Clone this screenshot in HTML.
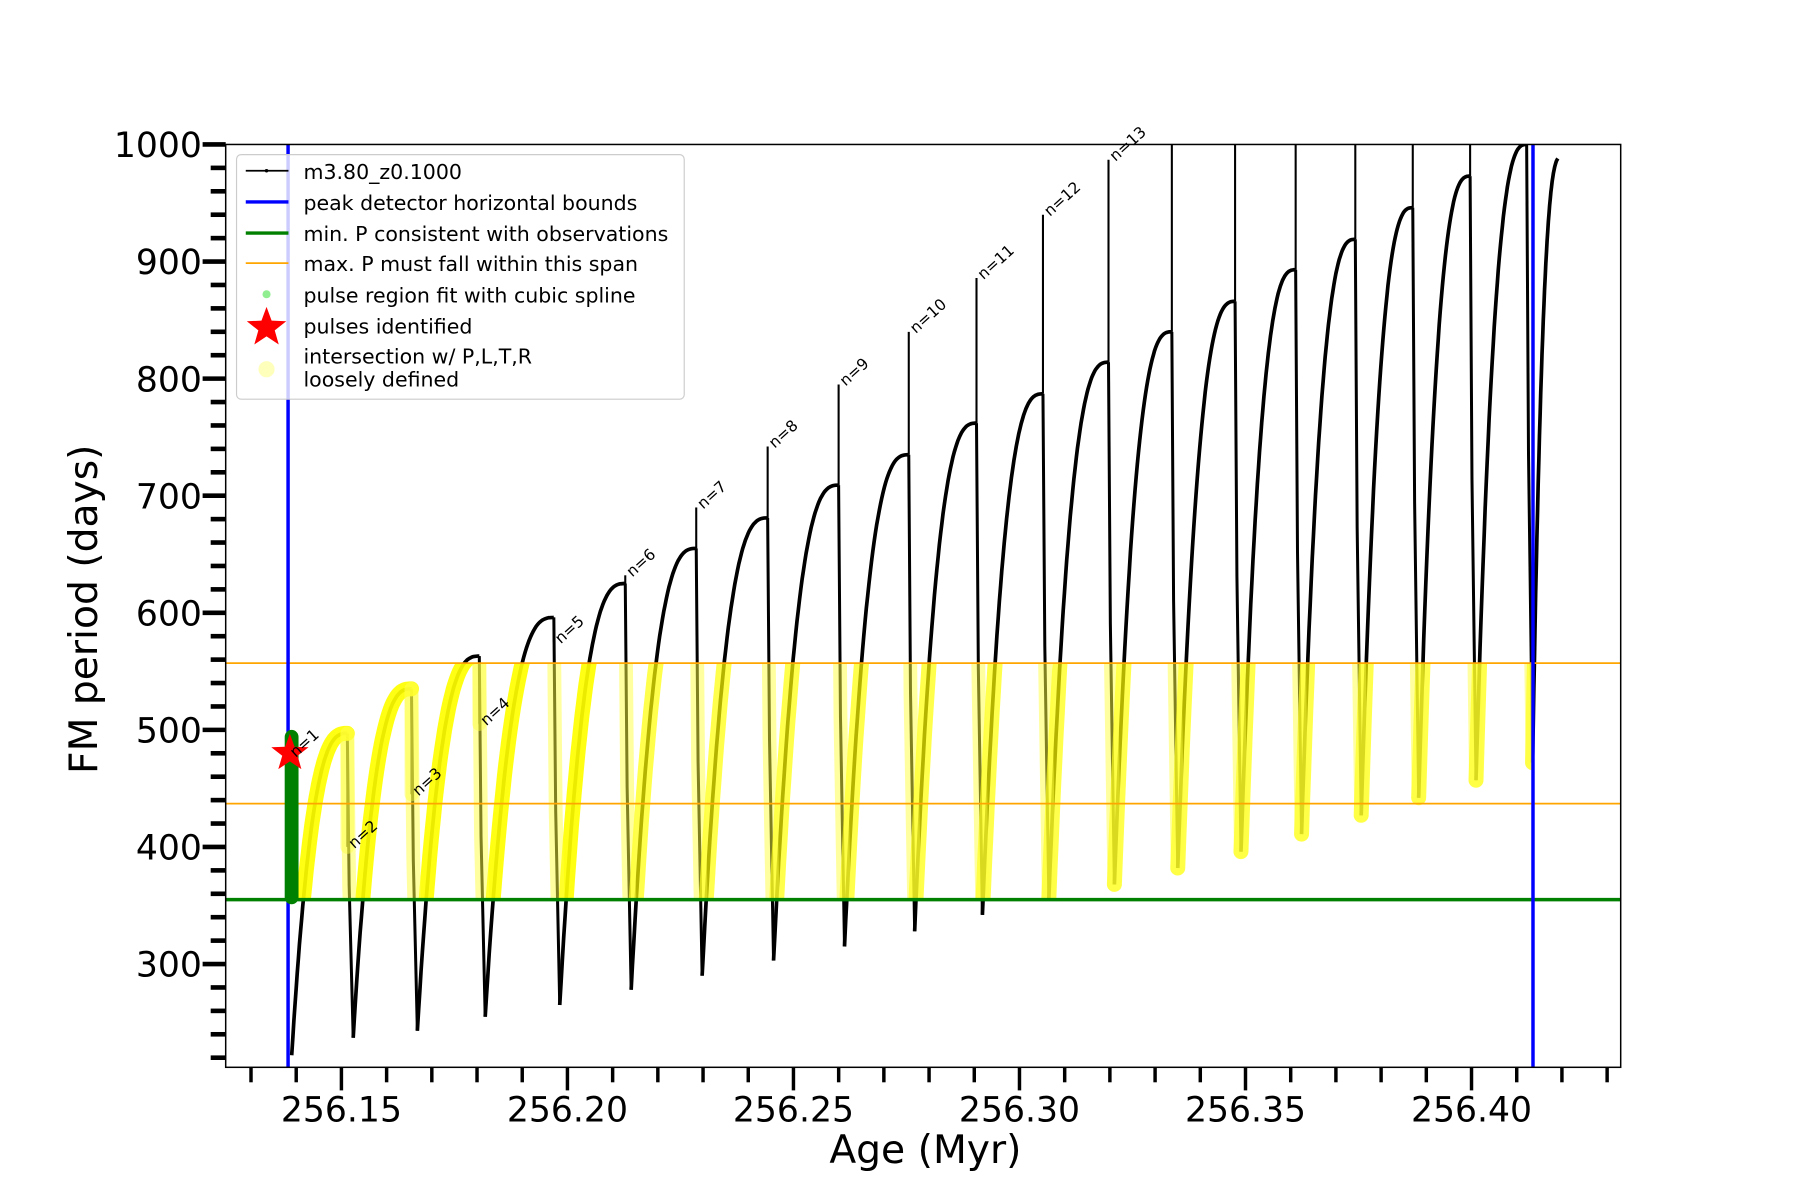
<!DOCTYPE html>
<html><head><meta charset="utf-8"><style>
html,body{margin:0;padding:0;background:#fff;}
svg{display:block;font-family:"DejaVu Sans","Liberation Sans",sans-serif;}
</style></head><body>
<svg id="chart" width="1800" height="1200" viewBox="0 0 1560 1040" xmlns="http://www.w3.org/2000/svg">
<defs>
<clipPath id="plotClip"><rect x="195.6" y="125.2" width="1209" height="799.8"/></clipPath>
<clipPath id="bandClip"><rect id="bandRect" x="0" y="0" width="0" height="0"/></clipPath>
</defs>
<rect x="195.6" y="125.2" width="1209" height="799.8" fill="#fff"/>
<g id="series" clip-path="url(#plotClip)"></g>
<g id="axes"></g>
<g id="labels"></g>
<rect x="195.6" y="125.2" width="1209" height="799.8" fill="none" stroke="#000" stroke-width="1.3"/>
<text x="802" y="1008" font-size="34" text-anchor="middle">Age (Myr)</text>
<text transform="translate(84,528) rotate(-90)" font-size="34" text-anchor="middle">FM period (days)</text>
<g>
<rect x="205" y="134" width="388" height="212" rx="4" fill="#fff" fill-opacity="0.8" stroke="#cccccc" stroke-width="1"/>
<g><line x1="213" y1="148" x2="250" y2="148" stroke="#000" stroke-width="1.5"/><circle cx="231" cy="148" r="1.5"/><text x="263" y="155" font-size="17.8">m3.80_z0.1000</text></g>
<g><line x1="213" y1="175" x2="250" y2="175" stroke="#0000ff" stroke-width="3"/><text x="263" y="182" font-size="17.8">peak detector horizontal bounds</text></g>
<g><line x1="213" y1="202" x2="250" y2="202" stroke="#008000" stroke-width="3"/><text x="263" y="209" font-size="17.8">min. P consistent with observations</text></g>
<g><line x1="213" y1="228" x2="250" y2="228" stroke="#ffa500" stroke-width="1.5"/><text x="263" y="235" font-size="17.8">max. P must fall within this span</text></g>
<g><circle cx="231" cy="255" r="3.5" fill="#90ee90"/><text x="263" y="262" font-size="17.8">pulse region fit with cubic spline</text></g>
<g><polygon id="legStar" fill="#ff0000"/><text x="263" y="289" font-size="17.8">pulses identified</text></g>
<g><circle cx="231" cy="320" r="7" fill="#ffffa0" fill-opacity="0.7"/><text x="263" y="315" font-size="17.8">intersection w/ P,L,T,R</text><text x="263" y="335" font-size="17.8">loosely defined</text></g>
</g>
</svg>
<script>
// ---- data ----
const startAge = 256.1390, startMin = 222;
const dropAges = [256.1513,256.1655,256.1805,256.1970,256.2128,256.2285,256.2443,256.2600,256.2755,256.2905,256.3052,256.3197,256.3337,256.3477,256.3611,256.3743,256.3870,256.3997,256.4122];
const curvePeaks = [497,535,563,596,625,655,681,709,735,762,787,814,840,866,893,919,946,973,1000];
const spikeTops = [400,445,505,575,632,690,742,795,840,886,940,987,1000,1000,1000,1000,1000,1000,1000];
const minima = [237,243,255,265,278,290,303,315,328,342,356,368,382,396,411,427,442,457,472];
const endAge = 256.4191, endValue = 988;
const pulseLabels = ["n=2","n=3","n=4","n=5","n=6","n=7","n=8","n=9","n=10","n=11","n=12","n=13"];
const firstPulse = {age:256.1386, value:480, label:"n=1"};
const blueBounds = [256.1382, 256.4136];
const minP = 355;
const maxPSpan = [437, 557];
const greenSpan = [355, 497];
const xTicks = [256.15,256.20,256.25,256.30,256.35,256.40];
const xTickLabels = ["256.15","256.20","256.25","256.30","256.35","256.40"];
const yTicks = [300,400,500,600,700,800,900,1000];
const yTickLabels = ["300","400","500","600","700","800","900","1000"];

// ---- axes ----
const X0=195.6,X1=1404.6,Y0=925.0,Y1=125.2;
const xMin=256.1244,xMax=256.4330,yMin=211.8,yMax=1000;
const xS=v=>X0+(v-xMin)/(xMax-xMin)*(X1-X0);
const yS=v=>Y0-(v-yMin)/(yMax-yMin)*(Y0-Y1);
const NS="http://www.w3.org/2000/svg";
function mk(tag,attrs,parent){const e=document.createElementNS(NS,tag);for(const k in attrs)e.setAttribute(k,attrs[k]);parent.appendChild(e);return e;}
const series=document.getElementById('series'),axes=document.getElementById('axes'),labels=document.getElementById('labels');

// build curve
const shape=u=>1-Math.pow(1-u,2.8);
let rise=[],drops=[],spikes=[];
function addRise(t0,v0,t1,v1){const N=50;const seg=[];for(let i=0;i<=N;i++){const u=i/N;seg.push([xS(t0+(t1-t0)*u),yS(v0+(v1-v0)*shape(u))]);}rise.push(seg);}
addRise(startAge,startMin,dropAges[0],curvePeaks[0]);
for(let i=0;i<dropAges.length;i++){
  const t=dropAges[i],tm=t+0.0013;
  spikes.push([[xS(t),yS(curvePeaks[i])],[xS(t),yS(spikeTops[i])]]);
  drops.push([[xS(t),yS(curvePeaks[i])],[xS(t+0.0004),yS((curvePeaks[i]+minima[i])/2)],[xS(tm),yS(minima[i])]]);
  if(i<dropAges.length-1) addRise(tm,minima[i],dropAges[i+1],curvePeaks[i+1]);
}
(function(){const t0=dropAges[dropAges.length-1]+0.0013,v0=minima[minima.length-1];const N=40;const seg=[];const frac=0.88;const full=v0+(endValue-v0)/shape(frac);for(let i=0;i<=N;i++){const u=i/N*frac;seg.push([xS(t0+(endAge-t0)*(u/frac)),yS(v0+(full-v0)*shape(u))]);}rise.push(seg);})();
const ptsStr=s=>s.map(p=>p[0].toFixed(1)+","+p[1].toFixed(1)).join(" ");

const br=document.getElementById('bandRect');
br.setAttribute('x',xS(blueBounds[0]));br.setAttribute('width',xS(blueBounds[1])-xS(blueBounds[0]));
br.setAttribute('y',yS(maxPSpan[1]));br.setAttribute('height',yS(minP)-yS(maxPSpan[1]));

rise.forEach(s=>{const e=mk('polyline',{points:ptsStr(s),fill:'none',stroke:'#000','stroke-width':3.2,'stroke-linejoin':'round'},series);

});
drops.forEach(s=>{const e=mk('polyline',{points:ptsStr(s),fill:'none',stroke:'#000','stroke-width':2.6},series);

});
spikes.forEach(s=>{const e=mk('polyline',{points:ptsStr(s),fill:'none',stroke:'#000','stroke-width':1.8},series);

});

const yg=mk('g',{'clip-path':'url(#bandClip)'},series);


rise.forEach((s,i)=>{const e=mk('polyline',{points:ptsStr(s),fill:'none',stroke:'#ffff00','stroke-width':13,'stroke-linecap':'round','stroke-opacity':i<5?0.92:0.7},yg);

});
drops.forEach(s=>{const e=mk('polyline',{points:ptsStr(s),fill:'none',stroke:'#ffff40','stroke-width':12,'stroke-linecap':'round','stroke-opacity':0.5},yg);

});
spikes.forEach(s=>{const e=mk('polyline',{points:ptsStr(s),fill:'none',stroke:'#ffff40','stroke-width':12,'stroke-linecap':'round','stroke-opacity':0.45},yg);

});

let e;
e=mk('line',{x1:X0,x2:X1,y1:yS(maxPSpan[0]),y2:yS(maxPSpan[0]),stroke:'#ffa500','stroke-width':1.5},series);


e=mk('line',{x1:X0,x2:X1,y1:yS(maxPSpan[1]),y2:yS(maxPSpan[1]),stroke:'#ffa500','stroke-width':1.5},series);


e=mk('line',{x1:X0,x2:X1,y1:yS(minP),y2:yS(minP),stroke:'#008000','stroke-width':3},series);


blueBounds.forEach(b=>{const l=mk('line',{x1:xS(b),x2:xS(b),y1:Y1,y2:Y0,stroke:'#0000ff','stroke-width':3},series);

});
e=mk('line',{x1:xS(firstPulse.age)+1.5,x2:xS(firstPulse.age)+1.5,y1:yS(greenSpan[0])-2,y2:yS(greenSpan[1])+3,stroke:'#008000','stroke-width':12,'stroke-linecap':'round'},series);


function starPts(cx,cy,R,r){let p=[];for(let i=0;i<10;i++){const a=-Math.PI/2+i*Math.PI/5;const rr=i%2?r:R;p.push((cx+rr*Math.cos(a)).toFixed(1)+","+(cy+rr*Math.sin(a)).toFixed(1));}return p.join(" ");}
e=mk('polygon',{points:starPts(xS(firstPulse.age),yS(firstPulse.value),17,7),fill:'#ff0000'},series);


document.getElementById('legStar').setAttribute('points',starPts(231,284,18,7.5));

function addLabel(x,y,txt){const t=mk('text',{transform:`translate(${x.toFixed(1)},${y.toFixed(1)}) rotate(-42)`,'font-size':13.5},labels);t.textContent=txt;

}
addLabel(xS(firstPulse.age)+5,yS(firstPulse.value)+4,firstPulse.label);
pulseLabels.forEach((l,i)=>addLabel(xS(dropAges[i])+6,yS(spikeTops[i])+2,l));

for(let k=13;k<=43;k++){const v=256+k/100;const px=xS(v);if(px<X0||px>X1)continue;const major=(k%5===0);
const t=mk('line',{x1:px,x2:px,y1:Y0,y2:Y0+(major?20:13),stroke:'#000','stroke-width':3},axes);

}
xTicks.forEach((v,i)=>{const t=mk('text',{x:xS(v),y:Y0+47,'font-size':30,'text-anchor':'middle'},axes);t.textContent=xTickLabels[i];

});
for(let v=220;v<=1000;v+=20){const py=yS(v);const major=(v%100===0);
const t=mk('line',{x1:X0-(major?20:13),x2:X0,y1:py,y2:py,stroke:'#000','stroke-width':4},axes);

}
yTicks.forEach((v,i)=>{const t=mk('text',{x:175,y:yS(v)+11,'font-size':30,'text-anchor':'end'},axes);t.textContent=yTickLabels[i];

});
</script>
</body></html>
